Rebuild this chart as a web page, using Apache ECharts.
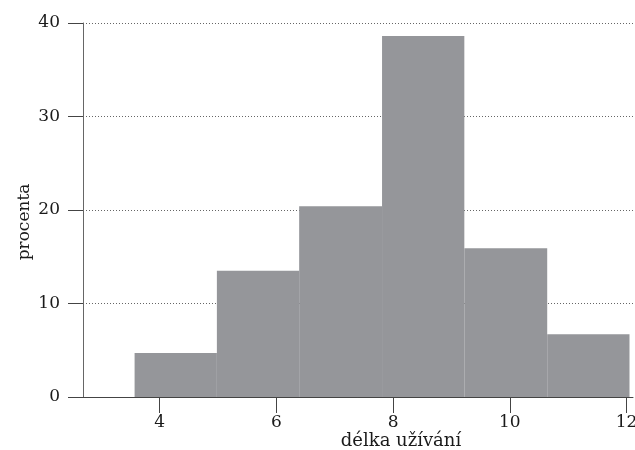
<!DOCTYPE html>
<html>
<head>
<meta charset="utf-8">
<title>délka užívání – histogram</title>
<script src="https://cdn.jsdelivr.net/npm/echarts@6/dist/echarts.min.js"></script>
<style>
  html, body { margin: 0; padding: 0; background: #ffffff; }
  #chart { width: 635px; height: 450px; }
</style>
</head>
<body>
<div id="chart"></div>
<script>
// Histogram bins: edges of each class and its share in percent
const binEdges = [3.57, 4.98, 6.39, 7.81, 9.22, 10.64, 12.05];
const percents = [4.7, 13.5, 20.4, 38.6, 15.9, 6.7];
const xTicks = [4, 6, 8, 10, 12];
const yTicks = [0, 10, 20, 30, 40];
const xTitle = 'délka užívání';
const yTitle = 'procenta';

const FONT = '"DejaVu Serif", serif';
const binData = percents.map((v, i) => [binEdges[i], binEdges[i + 1], v]);

const chart = echarts.init(document.getElementById('chart'), null, { renderer: 'canvas' });

chart.setOption({
  animation: false,
  backgroundColor: '#ffffff',
  grid: { left: 83, right: 2, top: 23, bottom: 53, outerBoundsMode: 'none', containLabel: false },
  xAxis: {
    type: 'value',
    min: 2.686,
    max: 12.11,
    axisLine: { show: true, lineStyle: { color: '#444', width: 1 } },
    axisTick: { show: true, length: 16, customValues: xTicks, lineStyle: { color: '#444' } },
    axisLabel: { customValues: xTicks, margin: 17, color: '#1a1a1a', fontFamily: FONT, fontSize: 17 },
    splitLine: { show: false }
  },
  yAxis: {
    type: 'value',
    min: yTicks[0],
    max: yTicks[yTicks.length - 1],
    interval: 10,
    axisLine: { show: true, lineStyle: { color: '#666', width: 1 } },
    axisTick: { show: true, length: 15, lineStyle: { color: '#444' } },
    axisLabel: { margin: 23, color: '#1a1a1a', fontFamily: FONT, fontSize: 17 },
    splitLine: { show: true, lineStyle: { color: '#666', width: 1, type: [1, 2] } }
  },
  graphic: [
    {
      type: 'text',
      x: 401,
      y: 441,
      style: {
        text: xTitle,
        font: '18px ' + FONT,
        fill: '#1a1a1a',
        align: 'center',
        verticalAlign: 'middle'
      }
    },
    {
      type: 'text',
      x: 25,
      y: 222,
      rotation: Math.PI / 2,
      style: {
        text: yTitle,
        font: '17px ' + FONT,
        fill: '#1a1a1a',
        align: 'center',
        verticalAlign: 'middle'
      }
    }
  ],
  series: [{
    type: 'custom',
    data: binData,
    encode: { x: [0, 1], y: 2 },
    renderItem: function (params, api) {
      const p0 = api.coord([api.value(0), api.value(2)]);
      const p1 = api.coord([api.value(1), 0]);
      return {
        type: 'rect',
        shape: { x: p0[0], y: p0[1], width: p1[0] - p0[0], height: p1[1] - p0[1] },
        style: { fill: '#95969a' }
      };
    }
  }]
});
</script>
</body>
</html>
